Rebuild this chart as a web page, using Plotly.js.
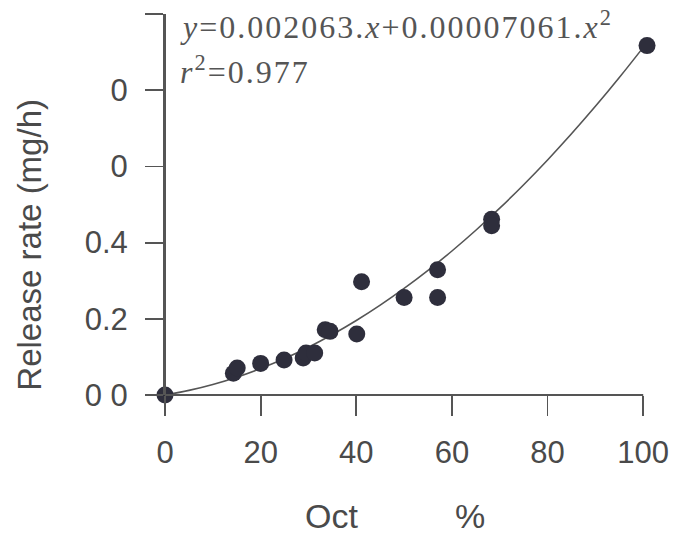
<!DOCTYPE html>
<html>
<head>
<meta charset="utf-8">
<script src="https://cdn.plot.ly/plotly-3.0.1.min.js"></script>
<style>
html,body{margin:0;padding:0;background:#fff;}
#chart{width:675px;height:539px;}
</style>
</head>
<body>
<div id="chart"></div>
<script>
// Measured points (Oct %, release rate mg/h)
const octPct = [0, 14.3, 15.1, 20, 24.9, 28.9, 29.5, 31.3, 33.5, 34.5, 40.1, 41.1, 50, 57, 57, 68.3, 68.3, 100.8];
const releaseRate = [0, 0.057, 0.071, 0.083, 0.092, 0.097, 0.110, 0.110, 0.171, 0.167, 0.160, 0.297, 0.256, 0.256, 0.329, 0.461, 0.444, 0.917];

// Fitted curve coefficients stated on the chart: y = a*x + b*x^2
const fitCoef = [0.002063, 0.00007061];
const fitX = [0, 5, 10, 15, 20, 25, 30, 35, 40, 45, 50, 55, 60, 65, 70, 75, 80, 85, 90, 95, 100, 100.8];

const yTickVals = [0, 0.2, 0.4, 0.6, 0.8, 1.0];
const yTickText = ["0 0", "0.2", "0.4", "0", "0", " "];
const xTickVals = [0, 20, 40, 60, 80, 100];
const xTickText = ["0", "20", "40", "60", "80", "100"];

const fitY = fitX.map(x => fitCoef[0] * x + fitCoef[1] * x * x);

const grey = '#4a4a4a';
const data = [
  {x: fitX, y: fitY, mode: 'lines', line: {color: '#555', width: 1.6, shape: 'spline'}, cliponaxis: false, hoverinfo: 'skip'},
  {x: octPct, y: releaseRate, mode: 'markers', marker: {color: '#2e2e3c', size: 17}, cliponaxis: false}
];

const axisLine = {color: '#555', width: 2};
const layout = {
  width: 675, height: 539,
  margin: {l: 165, r: 27, t: 14, b: 144},
  paper_bgcolor: '#fff', plot_bgcolor: '#fff',
  showlegend: false,
  font: {family: 'Liberation Sans, Arial, sans-serif', color: grey},
  xaxis: {
    range: [0, 101], showgrid: false, zeroline: false, showline: false,
    ticks: 'outside', ticklen: 20, tickwidth: 1.8, tickcolor: '#555',
    tickvals: xTickVals, ticktext: xTickText,
    tickfont: {size: 31, color: grey}, ticklabelstandoff: 10
  },
  yaxis: {
    range: [0, 1.0], showgrid: false, zeroline: false,
    showline: true, linecolor: '#555', linewidth: 2,
    ticks: 'outside', ticklen: 18, tickwidth: 1.8, tickcolor: '#555',
    tickvals: yTickVals, ticktext: yTickText,
    tickfont: {size: 31, color: grey}, ticklabelstandoff: 11
  },
  shapes: [
    {type: 'line', xref: 'paper', yref: 'paper', x0: 0, x1: 100 / 101, y0: 0, y1: 0, line: axisLine, layer: 'above'},
    {type: 'line', xref: 'paper', yref: 'paper', x0: 0, x1: 0, y0: 0, y1: 1, line: axisLine, layer: 'above'}
  ],
  annotations: [
    {xref: 'paper', yref: 'paper', x: -0.28, y: 0.394, xanchor: 'center', yanchor: 'middle',
     textangle: -90, showarrow: false, text: 'Release rate (mg/h)', font: {size: 33, color: grey}},
    {xref: 'paper', yref: 'paper', x: 0.286, y: -0.318, xanchor: 'left', yanchor: 'middle',
     showarrow: false, text: 'Oct', font: {size: 34, color: grey}},
    {xref: 'paper', yref: 'paper', x: 0.597, y: -0.318, xanchor: 'left', yanchor: 'middle',
     showarrow: false, text: '%', font: {size: 34, color: grey}},
    {xref: 'paper', yref: 'paper', x: 0.027, y: 0.971, xanchor: 'left', yanchor: 'middle',
     showarrow: false,
     text: '<span style="letter-spacing:2px"><i>y</i>=0.002063.<i>x</i>+0.00007061.<i>x</i><sup>2</sup></span>',
     font: {family: 'Liberation Serif, Times New Roman, serif', size: 32, color: '#555'}},
    {xref: 'paper', yref: 'paper', x: 0.027, y: 0.853, xanchor: 'left', yanchor: 'middle',
     showarrow: false,
     text: '<span style="letter-spacing:2px"><i>r</i><sup>2</sup>=0.977</span>',
     font: {family: 'Liberation Serif, Times New Roman, serif', size: 32, color: '#555'}}
  ]
};

Plotly.newPlot('chart', data, layout, {displayModeBar: false, staticPlot: true});
</script>
</body>
</html>
